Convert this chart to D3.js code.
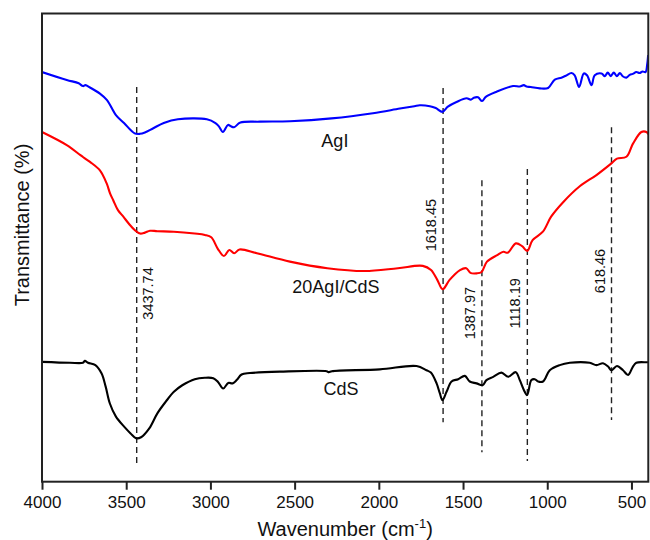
<!DOCTYPE html>
<html>
<head>
<meta charset="utf-8">
<script src="https://cdn.jsdelivr.net/npm/d3@7"></script>
<style>
  body { margin: 0; background: #fff; }
  svg { display: block; font-family: Arial, "Liberation Sans", sans-serif; }
</style>
</head>
<body>
<svg id="chart" width="650" height="540"></svg>
<script>
// FTIR spectra: [wavenumber (cm-1), transmittance (a.u., stacked)]
const agiSpectrum = [
  [4000,87.5],[3853,85.8],[3782,85.1],[3757,84.5],[3742,84.7],[3715,84.2],[3656,82.9],
  [3614,81.5],[3561,78.3],[3513,76.6],[3450,74.4],[3418,74.3],[3389,74.6],[3339,75.5],
  [3277,76.6],[3193,77.4],[3021,77.4],[2970,76.6],[2950,75.9],[2926,74.7],[2896,76.2],
  [2878,75.9],[2860,75.7],[2822,76.7],[2706,76.9],[2528,77.0],[2281,77.6],[2035,78.7],
  [1875,79.7],[1789,80.2],[1757,80.4],[1697,80.2],[1662,79.8],[1622,79.0],[1590,80.1],
  [1539,81.1],[1479,81.9],[1454,81.6],[1436,82.0],[1411,82.1],[1387,81.3],[1365,82.2],
  [1301,83.3],[1203,84.5],[1163,84.4],[1139,84.7],[1123,84.4],[1098,84.3],[1044,84.0],
  [995,84.1],[955,85.9],[916,86.3],[890,86.7],[856,87.3],[837,86.8],[811,84.3],
  [783,87.2],[764,86.8],[737,84.7],[718,86.8],[678,87.2],[658,86.6],[641,87.4],
  [623,86.6],[605,87.4],[587,86.6],[569,87.3],[552,86.6],[530,86.3],[510,86.9],
  [492,87.1],[471,87.5],[452,87.3],[434,87.6],[416,87.5],[407,89.0],[401,91.1]
];

const compositeSpectrum = [
  [4000,74.7],[3853,71.9],[3774,69.8],[3755,69.3],[3715,68.3],[3656,66.5],[3616,63.7],
  [3596,61.6],[3577,60.1],[3549,58.0],[3517,56.6],[3484,55.1],[3448,53.7],[3418,53.0],
  [3389,53.2],[3359,53.6],[3315,53.5],[3217,53.4],[3093,53.0],[3033,52.7],[2995,52.2],
  [2957,49.8],[2920,48.2],[2888,49.5],[2859,48.8],[2827,49.6],[2724,48.8],[2528,47.0],
  [2306,45.6],[2084,45.0],[1887,45.6],[1739,46.1],[1690,45.2],[1653,43.1],[1621,41.1],
  [1580,43.1],[1518,45.2],[1481,45.6],[1456,44.6],[1419,44.5],[1390,44.8],[1358,47.0],
  [1297,48.4],[1260,49.1],[1235,48.9],[1186,50.9],[1149,50.3],[1119,49.3],[1087,51.6],
  [1026,53.4],[977,56.6],[903,59.8],[807,63.1],[708,65.5],[619,68.0],[586,69.0],
  [530,69.4],[491,72.2],[441,74.7],[411,74.7],[400,74.2]
];

const cdsSpectrum = [
  [4000,25.6],[3834,25.4],[3757,25.4],[3745,25.8],[3727,25.4],[3683,24.9],[3646,23.1],
  [3622,20.3],[3597,16.7],[3561,13.9],[3511,11.7],[3474,10.3],[3442,9.3],[3412,9.5],
  [3363,11.4],[3315,14.6],[3265,17.1],[3217,19.2],[3167,20.6],[3093,21.9],[3033,22.2],
  [2983,22.1],[2955,21.3],[2924,19.9],[2894,21.1],[2868,21.0],[2844,21.7],[2815,22.9],
  [2765,23.2],[2587,23.5],[2310,23.6],[2297,23.4],[2279,23.6],[1994,24.0],[1776,24.7],
  [1717,23.8],[1691,23.3],[1657,21.0],[1638,18.9],[1622,17.4],[1598,19.2],[1568,21.4],
  [1529,21.9],[1489,22.6],[1460,21.4],[1420,21.0],[1384,20.6],[1361,21.7],[1321,22.4],
  [1272,23.3],[1232,22.4],[1187,23.4],[1163,21.7],[1139,19.6],[1120,18.5],[1094,21.7],
  [1074,21.9],[1054,21.4],[1025,21.4],[985,23.8],[926,24.9],[866,25.4],[748,25.4],
  [708,24.9],[669,25.3],[639,24.6],[619,23.8],[586,24.7],[550,23.8],[520,22.8],
  [491,24.6],[471,25.4],[411,25.5],[400,25.5]
];

const seriesNames = ["AgI", "20AgI/CdS", "CdS"];
const seriesColors = ["#0000ff", "#ff0000", "#000000"];
const seriesLabelWavenumber = [2261, 2255, 2225];
const seriesLabelLevel = [71.5, 40.3, 18.5];

// Assigned absorption bands and the vertical span of their guide lines
const peakPositions = [3437.74, 1618.45, 1387.97, 1118.19, 618.46];
const peakLabels = ["3437.74", "1618.45", "1387.97", "1118.19", "618.46"];
const peakSpanTop = [84.3, 84.1, 64.4, 66.8, 75.7];
const peakSpanBottom = [4.0, 12.7, 6.3, 4.4, 13.2];
const peakLabelLevel = [40.2, 54.8, 36.0, 38.1, 45.0];

const wavenumberTicks = [4000, 3500, 3000, 2500, 2000, 1500, 1000, 500];

const svg = d3.select("#chart");
const margin = { top: 13.5, right: 1.7, bottom: 58.3, left: 42 };
const W = 650, H = 540;
const innerW = W - margin.left - margin.right;
const innerH = H - margin.top - margin.bottom;

const x = d3.scaleLinear().domain([4000, 400]).range([0, innerW]);
const y = d3.scaleLinear().domain([0, 100]).range([innerH, 0]);

const g = svg.append("g").attr("transform", `translate(${margin.left},${margin.top})`);

g.append("clipPath").attr("id", "plot-clip")
  .append("rect").attr("width", innerW).attr("height", innerH);

// Peak guide lines
g.append("g").attr("class", "peak-lines")
  .selectAll("line").data(peakPositions).join("line")
  .attr("x1", d => x(d)).attr("x2", d => x(d))
  .attr("y1", (d, i) => y(peakSpanTop[i]))
  .attr("y2", (d, i) => y(peakSpanBottom[i]))
  .attr("stroke", "#222").attr("stroke-width", 1.4)
  .attr("stroke-dasharray", "6,4");

// Spectra
const line = d3.line()
  .x(d => x(d[0])).y(d => y(d[1]))
  .curve(d3.curveCatmullRom.alpha(0.5));
const spectra = [agiSpectrum, compositeSpectrum, cdsSpectrum];
g.append("g").attr("clip-path", "url(#plot-clip)")
  .selectAll("path").data(spectra).join("path")
  .attr("d", line)
  .attr("fill", "none")
  .attr("stroke", (d, i) => seriesColors[i])
  .attr("stroke-width", 2.1)
  .attr("stroke-linejoin", "round");

// Peak labels (rotated)
g.append("g").attr("class", "peak-labels")
  .selectAll("text").data(peakPositions).join("text")
  .attr("transform", (d, i) => {
    const px = x(d) + (i === 0 ? 11 : -12);
    return `translate(${px},${y(peakLabelLevel[i])}) rotate(-90)`;
  })
  .attr("text-anchor", "middle")
  .attr("dominant-baseline", "central")
  .attr("font-size", 14.5)
  .attr("fill", "#111")
  .text((d, i) => peakLabels[i]);

// Series labels
g.append("g").attr("class", "series-labels")
  .selectAll("text").data(seriesNames).join("text")
  .attr("x", (d, i) => x(seriesLabelWavenumber[i]))
  .attr("y", (d, i) => y(seriesLabelLevel[i]))
  .attr("text-anchor", "middle")
  .attr("font-size", 18)
  .attr("fill", "#111")
  .text(d => d);

// Bottom axis
const xAxis = d3.axisBottom(x)
  .tickValues(wavenumberTicks)
  .tickFormat(d3.format("d"))
  .tickSize(8)
  .tickPadding(6);
const ax = g.append("g").attr("transform", `translate(0,${innerH})`).call(xAxis);
ax.select(".domain").remove();
ax.selectAll(".tick line").attr("stroke", "#222").attr("stroke-width", 2);
ax.selectAll(".tick text").attr("font-size", 17).attr("fill", "#111")
  .attr("font-family", "Arial, 'Liberation Sans', sans-serif");

// Plot frame
g.append("rect").attr("width", innerW).attr("height", innerH)
  .attr("fill", "none").attr("stroke", "#222").attr("stroke-width", 2);

// Axis titles
const xt = svg.append("text")
  .attr("x", margin.left + innerW / 2).attr("y", 536)
  .attr("text-anchor", "middle").attr("font-size", 20).attr("fill", "#111");
xt.append("tspan").text("Wavenumber (cm");
xt.append("tspan").attr("dy", -8).attr("font-size", 13).text("-1");
xt.append("tspan").attr("dy", 8).text(")");

svg.append("text")
  .attr("transform", "translate(22,225) rotate(-90)")
  .attr("text-anchor", "middle").attr("dominant-baseline", "central")
  .attr("font-size", 20).attr("fill", "#111")
  .text("Transmittance (%)");
</script>
</body>
</html>
